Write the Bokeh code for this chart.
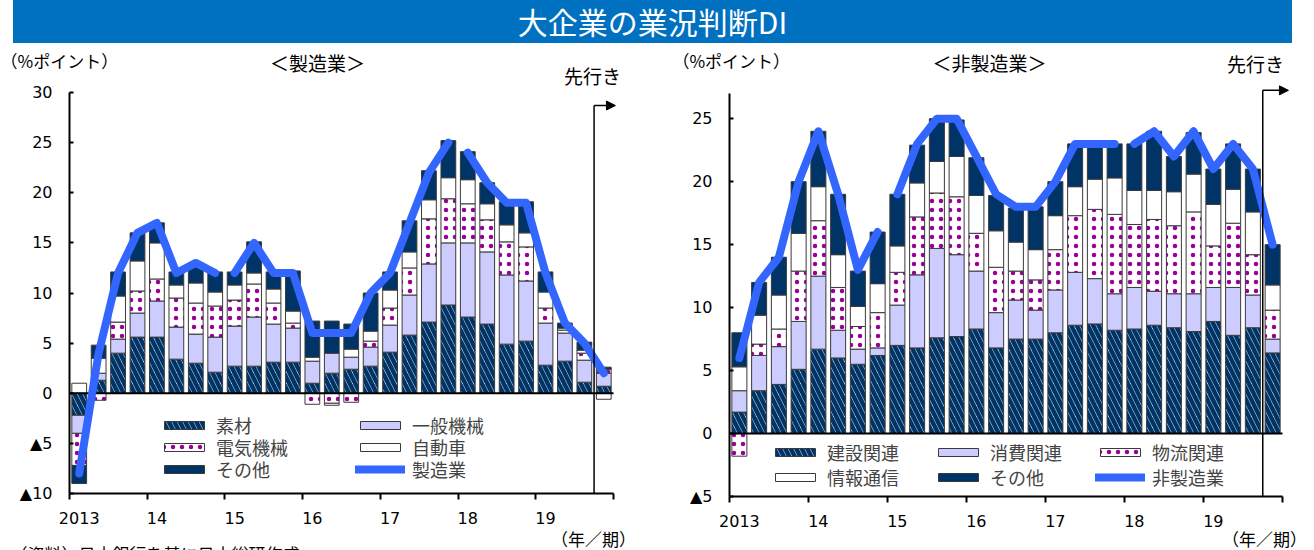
import numpy as np
from bokeh.plotting import figure
from bokeh.models import (FixedTicker, Legend, LegendItem, Label, Arrow,
                          NormalHead, Div, Range1d)
from bokeh.layouts import column, row
from bokeh.embed import file_html
from bokeh.resources import INLINE

# ---------------- data ----------------
year_labels = ["2013", "14", "15", "16", "17", "18", "19"]
n_quarters = 28  # 2013Q1 .. 2019Q3 + forecast
line_segment_starts = [0, 8, 20]  # line is broken at sample revisions

mfg_names = ["素材", "一般機械", "電気機械", "自動車", "その他"]
mfg_materials = [-2.2, 1.3, 4.0, 5.6, 5.6, 3.4, 3.0, 2.1, 2.7, 2.7, 3.1, 3.1, 1.0, 2.0,
                 2.4, 2.7, 4.1, 5.8, 7.1, 8.8, 7.6, 6.9, 4.9, 5.2, 2.8, 3.2, 1.1, 0.7]
mfg_machinery = [-1.8, 0.7, 1.4, 2.4, 3.6, 3.2, 2.9, 3.5, 4.0, 4.9, 3.8, 3.4, 2.2, 2.0,
                 1.2, 1.9, 2.7, 4.0, 5.8, 6.2, 7.4, 7.2, 6.9, 6.0, 4.2, 2.8, 2.2, 1.3]
mfg_electrical = [-3.2, -0.7, 1.7, 2.2, 2.2, 2.9, 3.1, 3.1, 2.6, 3.3, 2.1, 0.5, -1.1, -1.0,
                  -0.9, 0.6, 1.7, 2.7, 4.5, 4.4, 3.9, 3.2, 3.3, 3.4, 1.5, 0.3, 0.7, 0.4]
mfg_auto = [1.0, 1.5, 2.6, 3.0, 3.6, 1.3, 2.0, 1.4, 1.5, 1.1, 1.4, 1.2, 0.4, -0.2,
            0.8, 1.0, 1.8, 1.6, 1.9, 2.1, 2.4, 1.6, 1.7, 1.4, 1.6, 0.2, 0.3, -0.6]
mfg_other = [-1.8, 1.3, 2.4, 2.8, 2.0, 1.3, 2.0, 2.0, 1.3, 3.1, 1.7, 4.0, 3.6, 3.2,
             2.5, 3.8, 1.8, 3.1, 2.9, 3.7, 2.8, 2.1, 2.3, 3.1, 2.0, 0.5, 0.8, 0.2]
mfg_total = [-8, 4, 12, 16, 17, 12, 13, 12, 12, 15, 12, 12, 6, 6,
             6, 10, 12, 17, 22, 25, 24, 21, 19, 19, 12, 7, 5, 2]

nm_names = ["建設関連", "消費関連", "物流関連", "情報通信", "その他"]
nm_construction = [1.7, 3.4, 3.9, 5.1, 6.7, 6.0, 5.5, 6.2, 7.0, 6.8, 7.6, 7.7, 8.3, 6.8,
                   7.5, 7.5, 8.0, 8.6, 8.7, 8.2, 8.3, 8.6, 8.4, 8.1, 8.9, 7.8, 8.4, 6.4]
nm_consumer = [1.7, 2.8, 3.0, 3.8, 5.8, 2.2, 1.2, 0.6, 3.2, 5.8, 7.1, 6.5, 4.6, 2.8,
               3.1, 2.3, 3.4, 4.2, 3.6, 2.9, 3.3, 2.7, 2.7, 3.0, 2.7, 3.8, 2.6, 1.1]
nm_logistics = [-1.8, 0.9, 1.4, 4.0, 4.4, 3.4, 1.8, 2.8, 2.6, 4.6, 4.4, 4.6, 3.0, 3.6,
                2.3, 2.4, 3.2, 4.5, 5.5, 6.3, 5.0, 5.7, 5.4, 6.5, 3.3, 5.1, 3.2, 2.3]
nm_info = [1.9, 2.3, 2.7, 3.0, 2.7, 2.6, 1.6, 2.3, 2.1, 2.7, 2.5, 3.2, 3.0, 2.9,
           2.3, 2.4, 2.7, 2.3, 2.4, 2.9, 2.7, 2.3, 2.7, 3.0, 3.3, 2.7, 3.4, 2.0]
nm_other = [2.7, 2.6, 3.0, 4.1, 4.4, 4.8, 2.8, 4.1, 4.1, 3.0, 3.4, 2.9, 3.0, 2.8,
            2.7, 3.4, 2.7, 3.4, 2.8, 2.7, 3.7, 4.7, 2.8, 3.3, 2.8, 3.6, 3.4, 3.2]
nm_total = [6, 12, 14, 20, 24, 19, 13, 16, 19, 23, 25, 25, 22, 19,
            18, 18, 20, 23, 23, 23, 23, 24, 22, 24, 21, 23, 21, 15]

# ---------------- styles ----------------
JP = "Noto Sans CJK JP"
NUM = "DejaVu Sans"
NAVY = "#003366"
LINE_BLUE = "#3366FF"
PW, PH = 657, 507  # panel size in pixels
seg_styles = [
    dict(fill_color="white", hatch_pattern="left_diagonal_line", hatch_color=NAVY,
         hatch_scale=11, hatch_weight=4.5),
    dict(fill_color="#CCCCFF"),
    dict(fill_color="white", hatch_pattern="dot", hatch_color="#990099",
         hatch_scale=9, hatch_weight=2),
    dict(fill_color="white"),
    dict(fill_color=NAVY),
]


def stack(series):
    pos = np.zeros(n_quarters)
    neg = np.zeros(n_quarters)
    out = []
    for v in series:
        v = np.asarray(v, float)
        b = np.where(v >= 0, pos, neg)
        t = b + v
        pos = np.where(v >= 0, t, pos)
        neg = np.where(v < 0, t, neg)
        out.append((b, t))
    return out


def make_panel(series, names, total, total_name, yr, yticks, frame_px, legend_px,
               texts, arrow_y, arrow_x_end):
    # frame_px: left, top, right, bottom of the plotting area in panel pixels
    fl, ft, fr, fb = frame_px
    sx = (fr - fl) / n_quarters
    sy = (fb - ft) / (yr[1] - yr[0])
    x_range = Range1d(-fl / sx, n_quarters + (PW - fr) / sx)
    y_range = Range1d(yr[0] - (PH - fb) / sy, yr[1] + ft / sy)
    p = figure(width=PW, height=PH, output_backend="svg", toolbar_location=None,
               x_range=x_range, y_range=y_range, min_border=0,
               min_border_left=0, min_border_right=0, min_border_top=0,
               min_border_bottom=0)
    p.outline_line_color = None
    p.grid.visible = False
    p.background_fill_color = "white"
    p.border_fill_color = "white"

    x = np.arange(n_quarters) + 0.5
    renderers = []
    for (b, t), st in zip(stack(series), seg_styles):
        r = p.vbar(x=x, width=0.76, bottom=b, top=t, line_color="#3a3a3a",
                   line_width=1, **st)
        renderers.append(r)

    # zero line
    p.segment(x0=[0], y0=[0], x1=[n_quarters], y1=[0], line_color="black", line_width=2)

    tot = np.asarray(total, float)
    starts = line_segment_starts + [n_quarters]
    line_r = None
    for a, b in zip(starts[:-1], starts[1:]):
        lr = p.line(x[a:b], tot[a:b], line_color=LINE_BLUE, line_width=8,
                    line_cap="round", line_join="round")
        if line_r is None:
            line_r = lr
    renderers.append(line_r)

    # forecast divider + arrow
    p.add_layout(Arrow(end=None, x_start=n_quarters - 1, y_start=yr[0],
                       x_end=n_quarters - 1, y_end=arrow_y, line_color="black",
                       line_width=1.5))
    p.add_layout(Arrow(end=NormalHead(size=9, fill_color="black", line_color="black"),
                       x_start=n_quarters - 1, y_start=arrow_y, x_end=arrow_x_end,
                       y_end=arrow_y, line_color="black", line_width=1.5))

    # axes fixed at the data edges
    xa = p.xaxis[0]
    xa.fixed_location = yr[0]
    xa.bounds = (0, n_quarters)
    major = [4 * k + 0.5 for k in range(len(year_labels))]
    xa.ticker = FixedTicker(ticks=major, minor_ticks=list(range(0, n_quarters + 1, 4)))
    xa.major_label_overrides = {m: lab for m, lab in zip(major, year_labels)}
    xa.major_tick_in = 0
    xa.major_tick_out = 0
    xa.minor_tick_in = 0
    xa.minor_tick_out = 6
    xa.minor_tick_line_color = "black"
    xa.minor_tick_line_width = 2
    xa.axis_line_color = "black"
    xa.axis_line_width = 2
    xa.major_label_standoff = 12
    xa.major_label_text_font = NUM
    xa.major_label_text_font_size = "16px"
    xa.major_label_text_color = "black"

    ya = p.yaxis[0]
    ya.fixed_location = 0
    ya.bounds = yr
    ya.ticker = FixedTicker(ticks=yticks)
    ya.major_label_overrides = {v: ("▲" + str(abs(v)) if v < 0 else str(v)) for v in yticks}
    ya.major_tick_in = 4
    ya.major_tick_out = 0
    ya.minor_tick_in = 0
    ya.minor_tick_out = 0
    ya.major_tick_line_color = "black"
    ya.major_tick_line_width = 2
    ya.axis_line_color = "black"
    ya.axis_line_width = 2
    ya.major_label_standoff = 17
    ya.major_label_text_font = NUM
    ya.major_label_text_font_size = "16px"
    ya.major_label_text_color = "black"

    # legends, one per entry for exact placement (pixels from panel bottom-left)
    for name, r, loc in zip(names + [total_name], renderers, legend_px):
        leg = Legend(items=[LegendItem(label=name, renderers=[r])], location=loc,
                     orientation="vertical", glyph_width=50, glyph_height=10,
                     label_standoff=7, padding=0, margin=0, spacing=0,
                     border_line_alpha=0, background_fill_alpha=0,
                     label_text_font=JP, label_text_font_size="18px",
                     label_height=10)
        p.add_layout(leg)

    for txt, tx, ty, align, base, size in texts:
        p.add_layout(Label(x=tx, y=ty, text=txt, text_font=JP, text_font_size=size,
                           text_align=align, text_baseline=base, text_color="black"))
    return p


p1 = make_panel(
    [mfg_materials, mfg_machinery, mfg_electrical, mfg_auto, mfg_other], mfg_names,
    mfg_total, "製造業", (-10, 30), list(range(-10, 31, 5)),
    (69, 49, 613, 450),
    [(159, 112), (355, 112), (159, 90), (355, 90), (159, 68), (355, 68)],
    [("（%ポイント）", -3.55, 33.2, "left", "middle", "17px"),
     ("＜製造業＞", 12.76, 33.0, "center", "middle", "19px"),
     ("先行き", 26.92, 31.7, "center", "middle", "19px"),
     ("（年／期）", 26.97, -14.5, "center", "middle", "17px"),
     ("（資料）日本銀行を基に日本総研作成", -3.04, -14.75, "left", "top", "17px")],
    28.7, 28.1)

p2 = make_panel(
    [nm_construction, nm_consumer, nm_logistics, nm_info, nm_other], nm_names,
    nm_total, "非製造業", (-5, 27), list(range(-5, 26, 5)),
    (72, 50, 625, 453),
    [(113, 85), (276, 85), (438, 85), (113, 60), (276, 60), (438, 60)],
    [("（%ポイント）", -2.89, 29.63, "left", "middle", "17px"),
     ("＜非製造業＞", 13.16, 29.47, "center", "middle", "19px"),
     ("先行き", 26.63, 29.35, "center", "middle", "19px"),
     ("（年／期）", 27.09, -8.34, "center", "middle", "17px")],
    27.25, 28.3)

banner = Div(
    text=('<div style="margin-left:13px;width:1279px;height:43px;background:#0070C0;'
          'color:white;font-family:\'Noto Sans CJK JP\';font-size:30px;line-height:43px;'
          'text-align:center;">大企業の業況判断DI</div>'),
    width=1314, height=43, margin=0)

layout = column(banner, row(p1, p2, spacing=0), spacing=0)
open("out.html", "w").write(file_html(layout, INLINE))
